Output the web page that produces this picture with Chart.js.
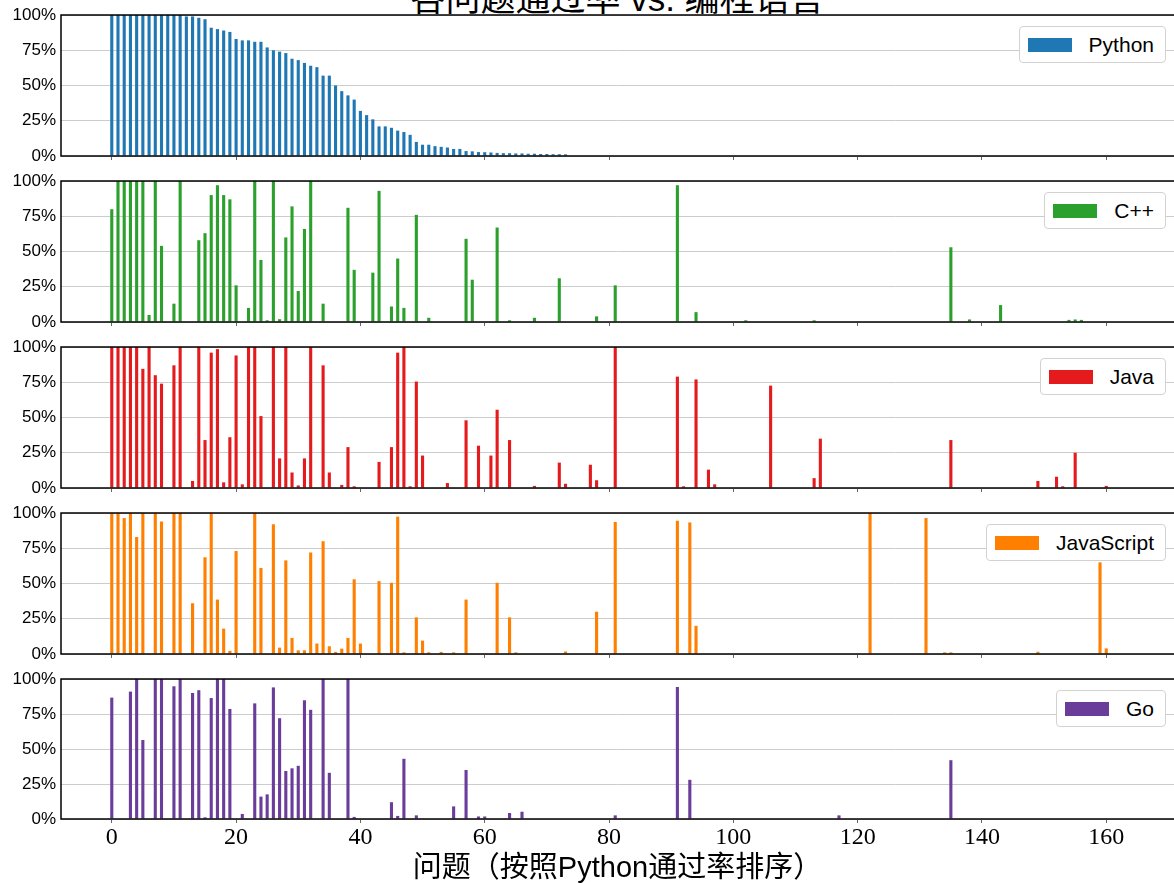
<!DOCTYPE html>
<html>
<head>
<meta charset="utf-8">
<script src="https://cdn.jsdelivr.net/npm/chart.js@4.4.0/dist/chart.umd.min.js"></script>
<style>
html,body{margin:0;padding:0;background:#fff;overflow:hidden;}
#wrap{position:relative;width:1174px;height:883px;overflow:hidden;background:#fff;}
#wrap canvas{position:absolute;left:0;}
.legend{position:absolute;right:8px;height:37px;box-sizing:border-box;background:#fff;border:1px solid #d2d2d2;border-radius:4px;
  display:flex;align-items:center;padding:0 11px 0 8px;font-family:"Liberation Sans",Arial,sans-serif;font-size:21px;color:#000;white-space:nowrap;}
.legend .sw{display:inline-block;width:44px;height:14px;margin-right:17px;}
#title{position:absolute;left:61px;width:1113px;top:-19px;text-align:center;font-family:"Liberation Sans","Noto Sans CJK SC",sans-serif;
  font-size:35px;line-height:35px;white-space:nowrap;color:#000;}
</style>
</head>
<body>
<div id="wrap">
  <div id="title">各问题通过率 vs. 编程语言</div>
</div>
<script>
// ---------------- data ----------------
const N = 163;
const languages = ['Python', 'C++', 'Java', 'JavaScript', 'Go'];
const xTickValues = [0, 20, 40, 60, 80, 100, 120, 140, 160];
const yTickValues = [0, 0.25, 0.5, 0.75, 1];
const xAxisLabel = '问题（按照Python通过率排序）';

// Python: sorted pass rate, problems 0..73 (rest 0)
const pythonRate = [1,1,1,1,1,1,1,1,1,1,1,1,
  0.99,0.99,0.98,0.97,0.91,0.90,0.89,0.88,0.83,0.82,0.82,0.81,0.81,0.77,0.75,0.74,0.73,0.69,
  0.68,0.66,0.64,0.63,0.57,0.57,0.50,0.46,0.43,0.40,0.32,0.29,0.26,0.21,0.21,0.20,0.18,0.17,
  0.15,0.10,0.08,0.08,0.07,0.065,0.06,0.05,0.05,0.035,0.033,0.028,0.027,0.025,0.022,0.02,0.02,
  0.018,0.018,0.016,0.016,0.014,0.014,0.013,0.013,0.012];

const cppIdx  = [0,1,2,3,4,5,6,7,8,10,11,14,15,16,17,18,19,20,22,23,24,25,26,27,28,29,30,31,32,34,38,39,42,43,45,46,47,49,51,57,58,62,64,68,72,78,81,91,94,102,113,135,138,143,154,155,156];
const cppRate = [0.80,1,1,1,1,1,0.05,1,0.54,0.13,1,0.58,0.63,0.90,0.97,0.90,0.87,0.26,0.10,1,0.44,0.012,1,0.02,0.60,0.82,0.22,0.66,1,0.13,0.81,0.37,0.35,0.93,0.11,0.45,0.10,0.76,0.03,0.59,0.30,0.67,0.012,0.03,0.31,0.04,0.26,0.97,0.07,0.012,0.012,0.53,0.018,0.12,0.015,0.018,0.015];

const javaIdx  = [0,1,2,3,4,5,6,7,8,10,11,13,14,15,16,17,18,19,20,21,22,23,24,26,27,28,29,30,31,32,34,35,37,38,39,43,45,46,47,48,49,50,54,57,59,61,62,64,68,72,73,77,78,81,91,92,94,96,97,106,113,114,135,149,152,153,155,160];
const javaRate = [1,1,1,1,1,0.845,1,0.80,0.74,0.87,1,0.05,1,0.34,0.96,0.985,0.04,0.36,0.94,0.026,1,1,0.51,1,0.21,1,0.11,0.018,0.21,1,0.87,0.11,0.022,0.29,0.012,0.185,0.29,0.96,1,0.012,0.755,0.23,0.035,0.48,0.30,0.23,0.555,0.34,0.015,0.18,0.03,0.165,0.055,1,0.79,0.012,0.77,0.13,0.026,0.726,0.07,0.35,0.34,0.05,0.08,0.012,0.25,0.015];

const jsIdx  = [0,1,2,3,4,5,7,8,10,11,13,15,16,17,18,19,20,23,24,26,27,28,29,30,31,32,33,34,35,36,37,38,39,40,43,45,46,47,49,50,51,53,55,57,62,64,65,73,78,81,91,93,94,122,131,134,135,149,159,160];
const jsRate = [1,1,0.964,1,0.83,1,1,0.94,1,1,0.36,0.686,1,0.386,0.18,0.022,0.73,1,0.61,0.92,0.045,0.664,0.114,0.026,0.026,0.72,0.074,0.80,0.055,0.015,0.038,0.114,0.53,0.074,0.517,0.505,0.974,0.012,0.26,0.095,0.012,0.015,0.012,0.386,0.505,0.26,0.012,0.018,0.30,0.936,0.945,0.933,0.20,1,0.964,0.012,0.012,0.016,0.65,0.04];

const goIdx  = [0,3,4,5,7,8,10,11,13,14,15,16,17,18,19,21,23,24,25,26,27,28,29,30,31,32,34,35,38,39,45,46,47,49,55,57,59,60,64,66,81,91,93,117,135];
const goRate = [0.867,0.91,1,0.564,1,1,0.948,1,0.90,0.92,0.012,0.864,1,1,0.786,0.036,0.826,0.16,0.176,0.94,0.72,0.343,0.362,0.38,0.848,0.78,1,0.33,1,0.015,0.12,0.022,0.43,0.026,0.09,0.35,0.018,0.018,0.043,0.052,0.026,0.943,0.28,0.026,0.42];

// ---------------- build ----------------
function fromSparse(idx, vals) {
  const a = new Array(N).fill(0);
  idx.forEach((k, j) => { a[k] = vals[j]; });
  return a;
}
function fromDense(vals) {
  const a = new Array(N).fill(0);
  vals.forEach((v, k) => { a[k] = v; });
  return a;
}
const series = [
  fromDense(pythonRate),
  fromSparse(cppIdx, cppRate),
  fromSparse(javaIdx, javaRate),
  fromSparse(jsIdx, jsRate),
  fromSparse(goIdx, goRate)
];
const colors = ['#1f77b4', '#2ca02c', '#e41a1c', '#ff7f00', '#6a3d9a'];

// axes frame: left, top, bottom spines (right edge is outside the picture)
const spinePlugin = {
  id: 'spines',
  afterDatasetsDraw(chart) {
    const { ctx, chartArea: a } = chart;
    ctx.save();
    ctx.strokeStyle = '#000';
    ctx.lineWidth = 1.5;
    ctx.beginPath();
    ctx.moveTo(a.right + 2, a.top);
    ctx.lineTo(a.left, a.top);
    ctx.lineTo(a.left, a.bottom);
    ctx.lineTo(a.right + 2, a.bottom);
    ctx.stroke();
    ctx.restore();
  }
};

const wrap = document.getElementById('wrap');
const PANEL_TOP0 = 15, PANEL_PITCH = 166, PAD_TOP = 10;
const sansFont = '"Liberation Sans", "Noto Sans CJK SC", sans-serif';

languages.forEach((lang, k) => {
  const isLast = k === languages.length - 1;
  const panelTop = PANEL_TOP0 + PANEL_PITCH * k;
  const cv = document.createElement('canvas');
  const h = isLast ? (883 - (panelTop - PAD_TOP)) : 161;
  cv.width = 1174; cv.height = h;
  cv.style.width = '1174px'; cv.style.height = h + 'px';
  cv.style.top = (panelTop - PAD_TOP) + 'px';
  wrap.appendChild(cv);

  const pts = series[k].map((v, i) => ({ x: i, y: v }));

  new Chart(cv.getContext('2d'), {
    type: 'bar',
    data: {
      datasets: [{
        label: lang,
        data: pts,
        backgroundColor: colors[k],
        borderWidth: 0,
        barPercentage: 0.5,
        categoryPercentage: 1.0
      }]
    },
    options: {
      responsive: false,
      animation: false,
      devicePixelRatio: 1,
      layout: { padding: { top: PAD_TOP, left: 0, right: 0, bottom: isLast ? 0 : 6 } },
      plugins: { legend: { display: false }, tooltip: { enabled: false }, title: { display: false } },
      scales: {
        x: {
          type: 'linear',
          min: -8.17,
          max: 170.9,
          offset: false,
          afterBuildTicks: s => { s.ticks = xTickValues.map(v => ({ value: v })); },
          afterFit: s => { s.paddingLeft = 0; s.paddingRight = 0; if (isLast) s.height = 64; },
          grid: { offset: false, drawOnChartArea: false, drawTicks: true, tickLength: 4, color: '#666', lineWidth: 1 },
          border: { display: false },
          ticks: {
            display: isLast,
            autoSkip: false,
            includeBounds: false,
            maxRotation: 0,
            padding: 0,
            color: '#000',
            font: { family: '"Liberation Serif", serif', size: 24 },
            callback: v => String(v)
          },
          title: {
            display: isLast,
            text: xAxisLabel,
            color: '#000',
            font: { family: sansFont, size: 29, lineHeight: 1 },
            padding: { top: 0, bottom: 0 }
          }
        },
        y: {
          min: 0,
          max: 1,
          afterBuildTicks: s => { s.ticks = yTickValues.map(v => ({ value: v })); },
          afterFit: s => { s.width = 61; s.paddingTop = 0; s.paddingBottom = 0; },
          grid: { color: '#cccccc', lineWidth: 1, drawTicks: false },
          border: { display: false },
          ticks: {
            padding: 5,
            color: '#000',
            font: { family: sansFont, size: 17 },
            callback: v => Math.round(v * 100) + '%'
          }
        }
      }
    },
    plugins: [spinePlugin]
  });

  // legend box (inside the axes, upper right)
  const lg = document.createElement('div');
  lg.className = 'legend';
  lg.style.top = (panelTop + 11) + 'px';
  const sw = document.createElement('span');
  sw.className = 'sw';
  sw.style.background = colors[k];
  const tx = document.createElement('span');
  tx.textContent = lang;
  lg.appendChild(sw); lg.appendChild(tx);
  wrap.appendChild(lg);
});
</script>
</body>
</html>
